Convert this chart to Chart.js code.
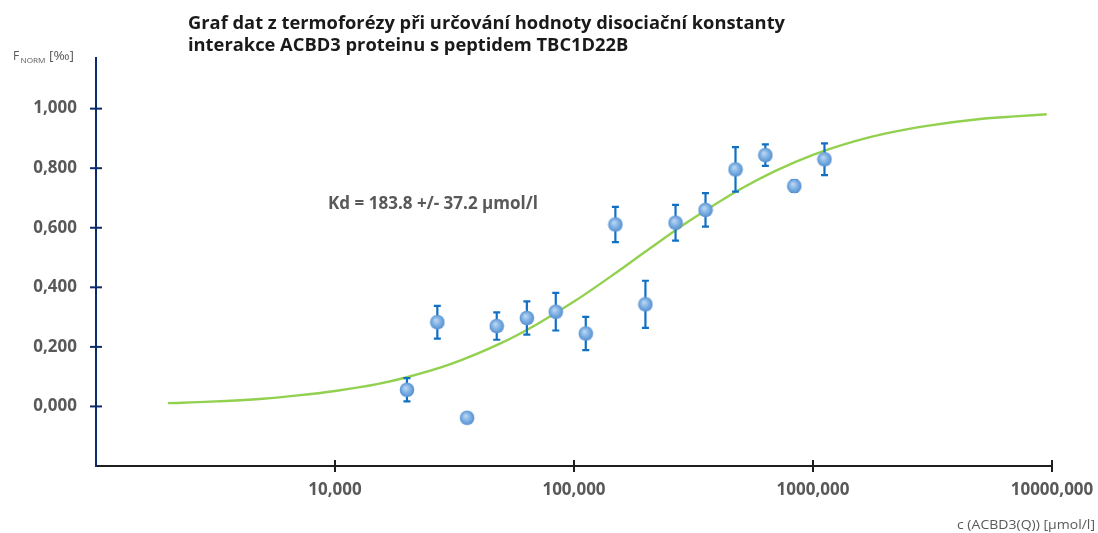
<!DOCTYPE html>
<html>
<head>
<meta charset="utf-8">
<script src="https://cdn.jsdelivr.net/npm/chart.js@4.4.1/dist/chart.umd.min.js"></script>
<style>
  html, body { margin: 0; padding: 0; background: #fff; }
  #wrap { width: 1098px; height: 533px; position: relative; }
</style>
</head>
<body>
<div id="wrap"><canvas id="chart" width="1098" height="533"></canvas></div>
<script>
// measured thermophoresis points (concentration in umol/l, normalised F)
const conc = [20.0, 26.8, 35.7, 47.5, 63.5, 83.9, 112, 149, 199, 266, 355, 474, 632, 835, 1117];
const fNorm = [0.056, 0.283, -0.038, 0.270, 0.297, 0.318, 0.245, 0.611, 0.343, 0.617, 0.660, 0.796, 0.844, 0.740, 0.830];
const fErr = [0.039, 0.055, 0, 0.046, 0.056, 0.063, 0.056, 0.059, 0.079, 0.060, 0.056, 0.075, 0.036, 0.020, 0.053];

// fitted binding curve
const fitConc = [2, 3, 5, 7, 10, 15, 20, 30, 50, 70, 100, 150, 200, 300, 500, 700, 1000, 1500, 2000, 3000, 5000, 7000, 9500];
const fitF = [0.011, 0.016, 0.026, 0.037, 0.052, 0.075, 0.098, 0.140, 0.214, 0.276, 0.352, 0.449, 0.521, 0.620, 0.731, 0.792, 0.845, 0.891, 0.916, 0.942, 0.965, 0.974, 0.981];

const xTicks = [10, 100, 1000, 10000];
const yTicks = [0, 0.2, 0.4, 0.6, 0.8, 1.0];

const titleLines = ['Graf dat z termoforézy při určování hodnoty disociační konstanty',
                    'interakce ACBD3 proteinu s peptidem TBC1D22B'];
const kdText = 'Kd = 183.8 +/- 37.2 µmol/l';
const xTitle = 'c (ACBD3(Q)) [µmol/l]';

const fmt = v => v.toFixed(3).replace('.', ',');

// shaded sphere used as the point marker
const ball = document.createElement('canvas');
ball.width = 16; ball.height = 16;
(function () {
  const g = ball.getContext('2d');
  const grd = g.createRadialGradient(6.5, 6, 0.5, 8, 8, 8);
  grd.addColorStop(0, '#b9d7f3');
  grd.addColorStop(0.5, '#7eb0e3');
  grd.addColorStop(1, '#4e8ace');
  g.fillStyle = grd;
  g.beginPath(); g.arc(8, 8, 7.3, 0, Math.PI * 2); g.fill();
})();

const errorBars = {
  id: 'errorBars',
  beforeDatasetDraw(chart, args) {
    if (args.index !== 1) return;
    const { ctx, scales: { x, y } } = chart;
    ctx.save();
    ctx.strokeStyle = '#1170c4';
    ctx.lineWidth = 2.2;
    conc.forEach((c, i) => {
      if (!fErr[i]) return;
      const px = x.getPixelForValue(c);
      const top = y.getPixelForValue(fNorm[i] + fErr[i]);
      const bot = y.getPixelForValue(fNorm[i] - fErr[i]);
      ctx.beginPath();
      ctx.moveTo(px, top); ctx.lineTo(px, bot);
      ctx.moveTo(px - 3.5, top); ctx.lineTo(px + 3.5, top);
      ctx.moveTo(px - 3.5, bot); ctx.lineTo(px + 3.5, bot);
      ctx.stroke();
    });
    ctx.restore();
  }
};

// text squeezed to a given width (narrow face look)
function fitText(ctx, text, x, y, font, width, color) {
  ctx.save();
  ctx.font = font;
  ctx.fillStyle = color;
  ctx.textBaseline = 'alphabetic';
  const w = ctx.measureText(text).width;
  const sx = width ? width / w : 1;
  ctx.translate(x, y);
  ctx.scale(sx, 1);
  ctx.fillText(text, 0, 0);
  ctx.restore();
}

const decorations = {
  id: 'decorations',
  afterDraw(chart) {
    const { ctx, scales: { x, y } } = chart;
    // tick marks crossing the axes
    ctx.save();
    ctx.lineWidth = 2;
    ctx.strokeStyle = '#1f1f1f';
    const ay = y.getPixelForValue(-0.2);
    xTicks.forEach(t => {
      const px = x.getPixelForValue(t);
      ctx.beginPath(); ctx.moveTo(px, ay - 6); ctx.lineTo(px, ay + 6); ctx.stroke();
    });
    ctx.strokeStyle = '#0c2a6e';
    const ax = x.getPixelForValue(1);
    yTicks.forEach(t => {
      const py = y.getPixelForValue(t);
      ctx.beginPath(); ctx.moveTo(ax - 6, py); ctx.lineTo(ax + 6, py); ctx.stroke();
    });
    ctx.restore();

    // title
    ctx.save();
    ctx.font = 'bold 18px "Open Sans"';
    const sx = 597 / ctx.measureText(titleLines[0]).width;
    const widths = titleLines.map(l => ctx.measureText(l).width * sx);
    ctx.restore();
    titleLines.forEach((line, i) => {
      fitText(ctx, line, 188, 29 + i * 22, 'bold 18px "Open Sans"', widths[i], '#1a1a1a');
    });

    // y axis title F_NORM [‰]
    fitText(ctx, 'F', 13, 60, '12px "Open Sans"', 0, '#595959');
    fitText(ctx, 'NORM', 20.5, 62.5, '7.5px "Open Sans"', 25, '#595959');
    fitText(ctx, '[‰]', 49, 60, '12px "Open Sans"', 25, '#595959');

    // x axis title
    fitText(ctx, xTitle, 957, 529, '13px "Open Sans"', 138, '#595959');

    // dissociation constant
    fitText(ctx, kdText, 328, 209, 'bold 17px "Open Sans"', 210, '#595959');
  }
};

new Chart(document.getElementById('chart'), {
  type: 'scatter',
  data: {
    datasets: [
      {
        type: 'line',
        data: fitConc.map((c, i) => ({ x: c, y: fitF[i] })),
        borderColor: '#92d050',
        borderWidth: 2.4,
        pointRadius: 0,
        fill: false,
        cubicInterpolationMode: 'monotone',
        order: 2
      },
      {
        data: conc.map((c, i) => ({ x: c, y: fNorm[i] })),
        pointStyle: ball,
        pointRadius: 8,
        order: 1
      }
    ]
  },
  options: {
    responsive: false,
    animation: false,
    events: [],
    layout: { padding: { top: 58, right: 46, left: 0, bottom: 0 } },
    plugins: { legend: { display: false }, tooltip: { enabled: false }, title: { display: false } },
    scales: {
      x: {
        type: 'logarithmic',
        min: 1, max: 10000,
        afterBuildTicks: s => { s.ticks = xTicks.map(v => ({ value: v })); },
        afterFit: s => { s.height = 67; s.paddingLeft = 0; s.paddingRight = 0; },
        grid: { display: false, drawTicks: false },
        border: { display: true, color: '#1f1f1f', width: 2 },
        ticks: {
          autoSkip: false, maxRotation: 0, padding: 14,
          color: '#595959',
          font: { family: 'Open Sans', size: 17, weight: 'bold' },
          callback: v => fmt(v)
        }
      },
      y: {
        min: -0.2, max: 1.17,
        afterBuildTicks: s => { s.ticks = yTicks.map(v => ({ value: v })); },
        afterFit: s => { s.width = 96; s.paddingTop = 0; s.paddingBottom = 0; },
        grid: { display: false, drawTicks: false },
        border: { display: true, color: '#0c2a6e', width: 2 },
        ticks: {
          padding: 19,
          color: '#595959',
          font: { family: 'Open Sans', size: 17, weight: 'bold' },
          callback: v => fmt(v)
        }
      }
    }
  },
  plugins: [errorBars, decorations]
});
</script>
</body>
</html>
